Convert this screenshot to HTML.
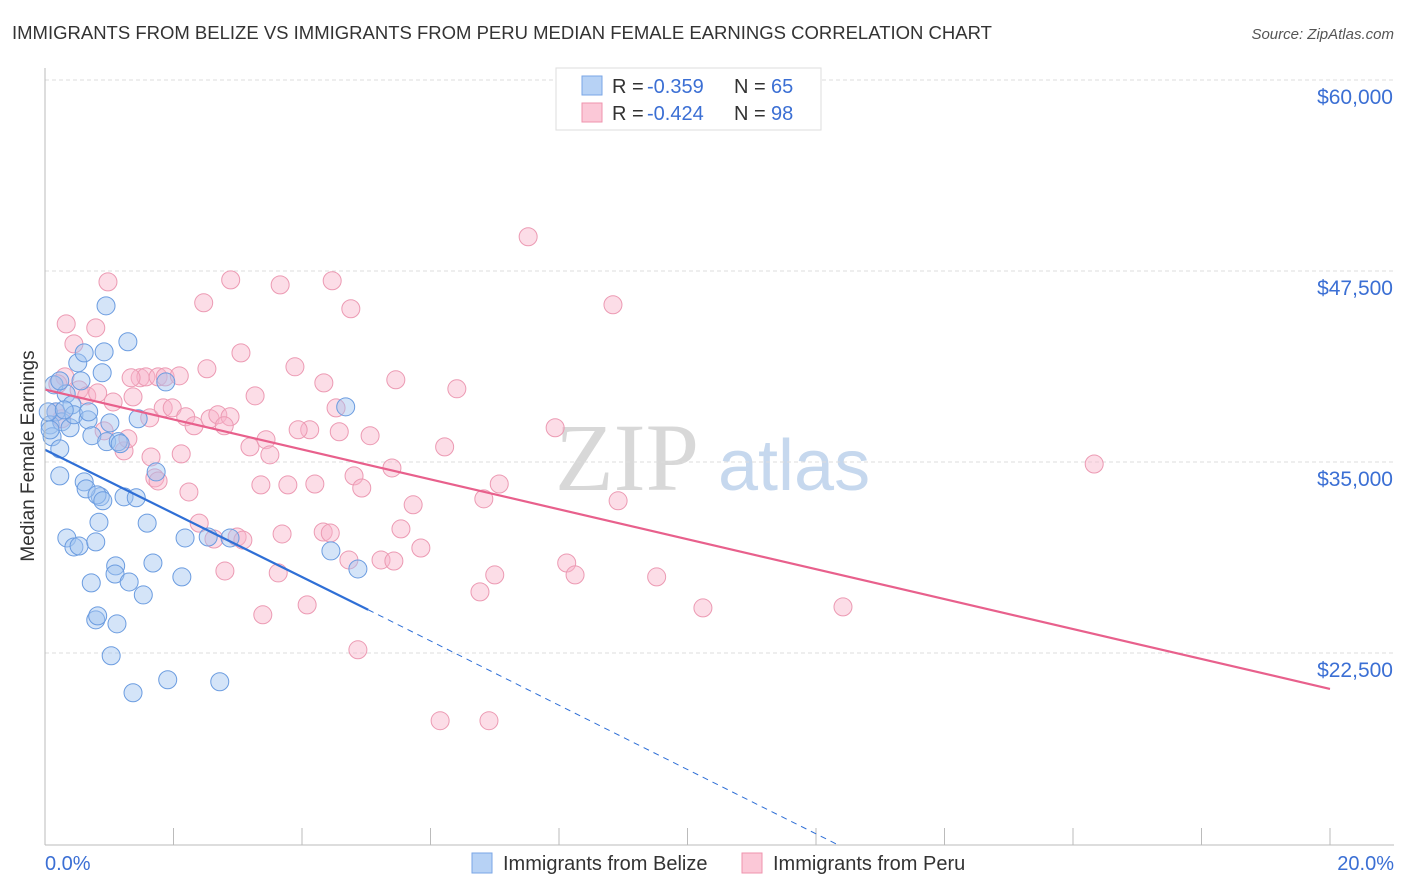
<!DOCTYPE html>
<html><head><meta charset="utf-8"><style>
body{margin:0;background:#fff;font-family:"Liberation Sans",sans-serif}
svg{display:block}
</style></head><body>
<svg id="c" width="1406" height="892" xmlns="http://www.w3.org/2000/svg">
<text x="12" y="39" font-size="18.5" fill="#333">IMMIGRANTS FROM BELIZE VS IMMIGRANTS FROM PERU MEDIAN FEMALE EARNINGS CORRELATION CHART</text>
<text x="1394" y="39" font-size="15" fill="#555" font-style="italic" text-anchor="end">Source: ZipAtlas.com</text>
<text x="34" y="456" font-size="19" fill="#333" text-anchor="middle" transform="rotate(-90 34 456)">Median Female Earnings</text>
<text x="555" y="490" font-size="96" fill="#d8d8d8" font-family="Liberation Serif,serif">ZIP</text>
<text x="718" y="490" font-size="72" fill="#c6d8ee">atlas</text>
<g id="grid"></g><g id="pts"></g><g id="lines"></g>
<line x1="45" y1="845" x2="1394" y2="845" stroke="#bbb"/>
<line x1="45" y1="68" x2="45" y2="845" stroke="#bbb"/>
<text x="45" y="870" font-size="20" fill="#3b6fd4">0.0%</text>
<text x="1394" y="870" font-size="20" fill="#3b6fd4" text-anchor="end">20.0%</text>
<g>
<rect x="556" y="68" width="265" height="62" fill="#fff" stroke="#ddd"/>
<rect x="582" y="76" width="20" height="19" fill="#b7d2f5" stroke="#7aa6e6"/>
<rect x="582" y="103" width="20" height="19" fill="#fbc8d7" stroke="#ef93ae"/>
<text x="612" y="93" font-size="20" fill="#333">R =</text>
<text x="647" y="93" font-size="20" fill="#3b6fd4">-0.359</text>
<text x="734" y="93" font-size="20" fill="#333">N =</text>
<text x="771" y="93" font-size="20" fill="#3b6fd4">65</text>
<text x="612" y="120" font-size="20" fill="#333">R =</text>
<text x="647" y="120" font-size="20" fill="#3b6fd4">-0.424</text>
<text x="734" y="120" font-size="20" fill="#333">N =</text>
<text x="771" y="120" font-size="20" fill="#3b6fd4">98</text>
</g>
<g>
<rect x="472" y="853" width="20" height="20" fill="#b7d2f5" stroke="#7aa6e6"/>
<text x="503" y="870" font-size="20" fill="#333">Immigrants from Belize</text>
<rect x="742" y="853" width="20" height="20" fill="#fbc8d7" stroke="#ef93ae"/>
<text x="773" y="870" font-size="20" fill="#333">Immigrants from Peru</text>
</g>
</svg>
<script>
const yTicks=[60000,47500,35000,22500];
const yTickLabels=["$60,000","$47,500","$35,000","$22,500"];
const xTicks=[0,2,4,6,8,10,12,14,16,18,20];
const belizeX=[0.14,0.17,0.08,0.11,0.23,0.26,0.33,0.39,0.42,0.45,0.51,0.56,0.61,0.67,0.68,0.73,0.86,0.92,0.95,0.89,0.96,1.01,1.14,1.29,1.45,1.88,1.17,0.23,0.61,0.64,0.81,0.90,1.23,1.42,1.59,0.84,0.34,0.45,0.53,0.79,2.18,2.54,2.88,1.10,1.09,1.68,1.31,0.72,1.53,2.13,0.79,0.82,1.12,1.03,1.91,1.37,2.72,4.45,4.87,4.68,1.73,0.05,0.08,0.23,0.30];
const belizeY=[40050,38280,37430,36650,35860,37630,39460,37240,38740,38090,41490,40310,42140,37760,38280,36720,32730,42210,45220,40840,36330,37560,36330,42870,37830,40240,36200,34090,33700,33240,32850,32460,32720,32660,31000,31060,30030,29440,29500,29770,30030,30090,30030,28200,27670,28390,27150,27090,26300,27480,24670,24930,24410,22320,20750,19900,20620,29180,28000,38610,34350,38280,37100,40310,38410];
const peruX=[0.33,0.45,0.79,0.98,0.31,0.20,0.53,0.65,0.82,1.06,1.37,1.48,1.57,1.76,1.87,2.09,1.34,1.63,1.84,1.98,2.19,2.57,2.69,2.88,2.52,2.89,2.47,3.05,3.27,3.66,3.89,4.47,4.76,4.34,4.53,5.46,6.41,5.06,4.58,4.12,3.94,3.19,3.44,3.50,2.79,2.32,2.12,1.65,1.23,1.29,0.92,1.71,1.76,2.24,2.40,2.99,3.36,3.78,4.20,4.81,4.93,5.40,6.22,5.73,6.83,7.07,7.52,7.94,8.84,8.92,8.12,8.25,7.00,6.77,9.52,10.24,12.42,16.33,2.63,3.08,3.69,4.33,4.44,5.54,5.85,5.23,5.43,4.73,3.63,2.80,4.08,3.39,4.87,6.15,6.91,0.26,0.17];
const peruY=[44040,42730,43780,46790,40570,40110,39720,39330,39520,38930,39260,40510,40570,40570,40570,40640,40510,37890,38540,38540,37960,37830,38090,37960,41100,46920,45420,42140,39330,46590,41230,46860,45030,40180,38540,40380,39790,36720,36980,37110,37110,35990,36460,35470,37370,37370,35530,35330,35730,36520,37040,33960,33760,33040,31000,30090,33500,33500,33560,34090,33300,34610,35990,32200,32590,33560,49740,37240,45290,32460,28390,27610,27610,26500,27480,25450,25520,34870,29960,29890,30290,30420,30350,30620,29370,28590,28520,28590,27740,27870,25650,25000,22710,18070,18070,37830,38280];
const trendPeru=[{x:0,y:39740},{x:20,y:20150}];
const trendBelize=[{x:0,y:35800},{x:5.03,y:25330}];
const trendBelizeExt=[{x:5.03,y:25330},{x:12.35,y:9930}];
const NS="http://www.w3.org/2000/svg";
const X=v=>45+v/20*1285, Y=v=>80+(60000-v)*191/12500;
function mk(t,a,p){const e=document.createElementNS(NS,t);for(const k in a)e.setAttribute(k,a[k]);p.appendChild(e);return e;}
const grid=document.getElementById('grid');
yTicks.forEach((v,i)=>{
 const l=mk('line',{x1:45,x2:1394,y1:Y(v),y2:Y(v),stroke:'#ddd','stroke-dasharray':'4 3'},grid);
 
 
 const t=mk('text',{x:1393,y:Y(v)+24,'font-size':21,fill:'#3b6fd4','text-anchor':'end'},grid);
 t.textContent=yTickLabels[i];
 
 
});
xTicks.forEach(v=>{
 const l=mk('line',{x1:X(v),x2:X(v),y1:828,y2:845,stroke:'#bbb'},grid);
 
 
});
const pts=document.getElementById('pts');
peruX.forEach((x,i)=>{
 const c=mk('circle',{cx:X(x),cy:Y(peruY[i]),r:9,fill:'rgba(248,180,202,0.45)',stroke:'#ec9ab3','stroke-width':1},pts);
 
 
});
belizeX.forEach((x,i)=>{
 const c=mk('circle',{cx:X(x),cy:Y(belizeY[i]),r:9,fill:'rgba(160,196,240,0.45)',stroke:'#6b9ce0','stroke-width':1},pts);
 
 
});
const lines=document.getElementById('lines');
function ln(a,st,w,dash,name){const l=mk('line',{x1:X(a[0].x),y1:Y(a[0].y),x2:X(a[1].x),y2:Y(a[1].y),stroke:st,'stroke-width':w},lines);if(dash)l.setAttribute('stroke-dasharray',dash);
 
 }
ln(trendPeru,'#e8608c',2.2,null,'peru-trend-line');
ln(trendBelize,'#2f6fd6',2.2,null,'belize-trend-line');
ln(trendBelizeExt,'#2f6fd6',1,'6 5','belize-trend-extension');
</script>
</body></html>
